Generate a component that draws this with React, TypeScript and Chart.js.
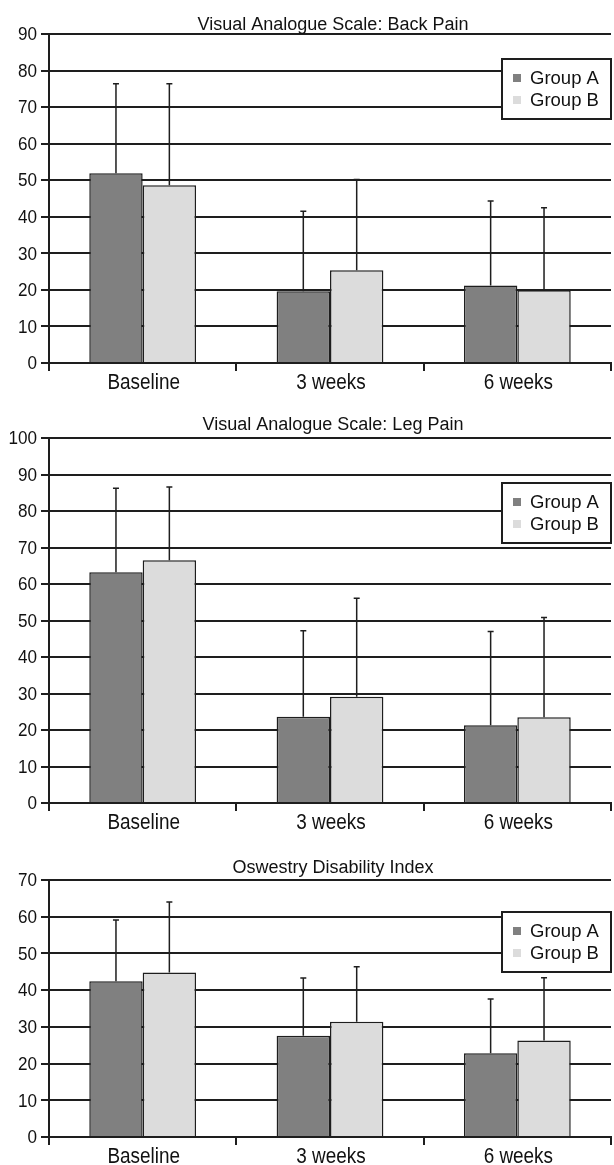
import React, { useEffect, useRef } from "react";
import { Chart, registerables } from "chart.js";
Chart.register(...registerables);

const categories = ["Baseline", "3 weeks", "6 weeks"];
const seriesNames = ["Group A", "Group B"];

const backTitle = "Visual Analogue Scale: Back Pain";
const backA = [51.9, 19.6, 21.2];
const backB = [48.6, 25.4, 19.9];
const backASd = [24.5, 21.9, 23.1];
const backBSd = [27.8, 24.8, 22.6];
const backMax = 90;

const legTitle = "Visual Analogue Scale: Leg Pain";
const legA = [63.2, 23.6, 21.3];
const legB = [66.5, 29.1, 23.5];
const legASd = [23.0, 23.6, 25.7];
const legBSd = [20.1, 27.0, 27.3];
const legMax = 100;

const odiTitle = "Oswestry Disability Index";
const odiA = [42.4, 27.6, 22.8];
const odiB = [44.8, 31.4, 26.3];
const odiASd = [16.7, 15.7, 14.8];
const odiBSd = [19.2, 15.0, 17.1];
const odiMax = 70;

const colorA = "#808080";
const colorB = "#dcdcdc";
const ink = "#1e1e1e";
const regular = "'Liberation Sans', Arial, sans-serif";

function drawSqueezed(ctx: any, text: string, x: number, y: number, align: string, sx: number) {
  ctx.save();
  ctx.translate(x, y);
  ctx.scale(sx, 1);
  ctx.textAlign = align;
  ctx.fillText(text, 0, 0);
  ctx.restore();
}

const decorPlugin = {
  id: "decor",
  afterDatasetsDraw(chart: any) {
    const ctx = chart.ctx;
    const ys = chart.scales.y;
    chart.data.datasets.forEach((ds: any, di: number) => {
      const meta = chart.getDatasetMeta(di);
      meta.data.forEach((el: any, i: number) => {
        const top = ys.getPixelForValue(ds.data[i] + ds.sd[i]);
        ctx.save();
        ctx.strokeStyle = ink;
        ctx.lineWidth = 1.5;
        ctx.beginPath();
        ctx.moveTo(el.x, el.y);
        ctx.lineTo(el.x, top);
        ctx.moveTo(el.x - 3, top);
        ctx.lineTo(el.x + 3, top);
        ctx.stroke();
        ctx.restore();
      });
    });
  },
  afterDraw(chart: any, _a: any, opts: any) {
    const ctx = chart.ctx;
    const ca = chart.chartArea;
    const xs = chart.scales.x;
    const ys = chart.scales.y;
    ctx.save();
    ctx.fillStyle = "#111";
    // y tick labels
    ctx.font = `19px ${regular}`;
    ctx.textBaseline = "middle";
    ys.ticks.forEach((t: any) => {
      drawSqueezed(ctx, String(t.value), ca.left - 12, ys.getPixelForValue(t.value) + 1, "right", 0.9);
    });
    // x tick labels
    ctx.font = `22px ${regular}`;
    ctx.textBaseline = "alphabetic";
    chart.data.labels.forEach((lab: string, i: number) => {
      drawSqueezed(ctx, lab, xs.getPixelForValue(i) + 1, ca.bottom + 26, "center", 0.86);
    });
    // title
    ctx.font = `18px ${regular}`;
    ctx.textAlign = "center";
    ctx.textBaseline = "alphabetic";
    ctx.fillText(opts.title, (ca.left + ca.right) / 2 + 3, ca.top - opts.titleGap);
    // legend
    const left = 502;
    const right = ca.right;
    const top = ca.top + opts.legendOffset;
    const h = 60;
    ctx.fillStyle = "#ffffff";
    ctx.fillRect(left, top, right - left, h);
    ctx.strokeStyle = ink;
    ctx.lineWidth = 2;
    ctx.strokeRect(left, top, right - left, h);
    const rows = [top + 19, top + 41];
    chart.data.datasets.forEach((ds: any, i: number) => {
      ctx.fillStyle = ds.backgroundColor;
      ctx.fillRect(513, rows[i] - 4, 8, 8);
      ctx.fillStyle = "#111";
      ctx.font = `18.5px ${regular}`;
      ctx.textAlign = "left";
      ctx.textBaseline = "middle";
      ctx.fillText(ds.label, 530, rows[i] + 1);
    });
    ctx.restore();
  },
};

type PanelProps = {
  title: string;
  a: number[];
  b: number[];
  aSd: number[];
  bSd: number[];
  yMax: number;
  height: number;
  areaTop: number;
  xAxisHeight: number;
  titleGap: number;
  legendOffset: number;
};

function Panel(p: PanelProps) {
  const ref = useRef<HTMLCanvasElement | null>(null);
  useEffect(() => {
    if (!ref.current) return;
    const mk = (label: string, data: number[], sd: number[], color: string) =>
      ({
        label,
        data,
        sd,
        backgroundColor: color,
        borderColor: ink,
        borderWidth: 1.5,
        categoryPercentage: 0.57,
        barPercentage: 1.0,
      }) as any;
    const chart = new Chart(ref.current, {
      type: "bar",
      data: {
        labels: categories,
        datasets: [mk(seriesNames[0], p.a, p.aSd, colorA), mk(seriesNames[1], p.b, p.bSd, colorB)],
      },
      options: {
        responsive: false,
        animation: false,
        events: [],
        layout: { padding: { top: p.areaTop, right: 3, left: 0, bottom: 0 } },
        plugins: {
          legend: { display: false },
          title: { display: false },
          tooltip: { enabled: false },
          decor: { title: p.title, titleGap: p.titleGap, legendOffset: p.legendOffset },
        } as any,
        scales: {
          x: {
            afterFit: (s: any) => {
              s.height = p.xAxisHeight;
            },
            grid: { offset: true, drawOnChartArea: false, color: ink, lineWidth: 2, tickLength: 8 },
            border: { display: true, color: ink, width: 2 },
            ticks: { display: false },
          },
          y: {
            min: 0,
            max: p.yMax,
            afterFit: (s: any) => {
              s.width = 49;
            },
            grid: { color: ink, lineWidth: 2, tickLength: 8 },
            border: { display: true, color: ink, width: 2 },
            ticks: { display: false, stepSize: 10 },
          },
        },
      },
      plugins: [decorPlugin],
    });
    return () => chart.destroy();
  }, []);
  return <canvas ref={ref} width={614} height={p.height} style={{ display: "block" }} />;
}

export default function App() {
  return (
    <div style={{ position: "absolute", left: 0, top: 0, width: 614, height: 1165, background: "#fff", overflow: "hidden" }}>
      <Panel title={backTitle} a={backA} b={backB} aSd={backASd} bSd={backBSd} yMax={backMax}
        height={400} areaTop={34} xAxisHeight={37} titleGap={4} legendOffset={25} />
      <Panel title={legTitle} a={legA} b={legB} aSd={legASd} bSd={legBSd} yMax={legMax}
        height={440} areaTop={38} xAxisHeight={37} titleGap={8} legendOffset={45} />
      <Panel title={odiTitle} a={odiA} b={odiB} aSd={odiASd} bSd={odiBSd} yMax={odiMax}
        height={325} areaTop={40} xAxisHeight={28} titleGap={7} legendOffset={32} />
    </div>
  );
}
